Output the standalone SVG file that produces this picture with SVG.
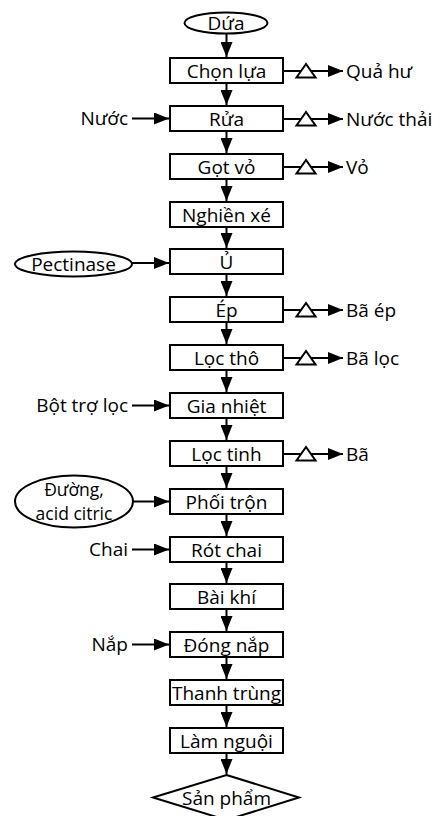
<svg xmlns="http://www.w3.org/2000/svg" width="442" height="816" viewBox="0 0 442 816">
<defs>
<marker id="ah" markerUnits="userSpaceOnUse" markerWidth="15" markerHeight="12" refX="15" refY="6" orient="auto">
<path d="M0,0 L15,6 L0,12 z" fill="#000"/>
</marker>
<style>
rect, ellipse, polygon.shape { fill: #fff; stroke: #000; stroke-width: 2; }
polygon.tri { fill: #fff; stroke: #000; stroke-width: 2; }
line { stroke: #000; stroke-width: 2; }
line.arr { marker-end: url(#ah); }
text { font-family: "Open Sans", "Liberation Sans", sans-serif; font-size: 19px; fill: #000; }
text.c { text-anchor: middle; }
text.r { text-anchor: end; }
text.s { font-size: 17.5px; }
</style>
</defs>
<rect width="442" height="816" fill="#fff" style="stroke:none"/>

<g id="connectors">
<line class="arr" x1="226.5" y1="34" x2="226.5" y2="57"/>
<line class="arr" x1="226.5" y1="84" x2="226.5" y2="105"/>
<line class="arr" x1="226.5" y1="132" x2="226.5" y2="153"/>
<line class="arr" x1="226.5" y1="180" x2="226.5" y2="201"/>
<line class="arr" x1="226.5" y1="228" x2="226.5" y2="248"/>
<line class="arr" x1="226.5" y1="275" x2="226.5" y2="296"/>
<line class="arr" x1="226.5" y1="323" x2="226.5" y2="344"/>
<line class="arr" x1="226.5" y1="371" x2="226.5" y2="392"/>
<line class="arr" x1="226.5" y1="419" x2="226.5" y2="440"/>
<line class="arr" x1="226.5" y1="467" x2="226.5" y2="488"/>
<line class="arr" x1="226.5" y1="515" x2="226.5" y2="536"/>
<line class="arr" x1="226.5" y1="563" x2="226.5" y2="583"/>
<line class="arr" x1="226.5" y1="610" x2="226.5" y2="631"/>
<line class="arr" x1="226.5" y1="658" x2="226.5" y2="679"/>
<line class="arr" x1="226.5" y1="706" x2="226.5" y2="727"/>
<line class="arr" x1="226.5" y1="754" x2="226.5" y2="774"/>

<line class="arr" x1="283" y1="71" x2="343" y2="71"/>
<line class="arr" x1="283" y1="119" x2="343" y2="119"/>
<line class="arr" x1="283" y1="167" x2="343" y2="167"/>
<line class="arr" x1="283" y1="310" x2="343" y2="310"/>
<line class="arr" x1="283" y1="358" x2="343" y2="358"/>
<line class="arr" x1="283" y1="454" x2="343" y2="454"/>
<polygon class="tri" points="306,64 296.5,77.5 315.5,77.5"/>
<polygon class="tri" points="306,112 296.5,125.5 315.5,125.5"/>
<polygon class="tri" points="306,160 296.5,173.5 315.5,173.5"/>
<polygon class="tri" points="306,303 296.5,316.5 315.5,316.5"/>
<polygon class="tri" points="306,351 296.5,364.5 315.5,364.5"/>
<polygon class="tri" points="306,447 296.5,460.5 315.5,460.5"/>

<line class="arr" x1="132" y1="118.5" x2="169" y2="118.5"/>
<line class="arr" x1="132" y1="263" x2="169" y2="263"/>
<line class="arr" x1="132" y1="405.5" x2="169" y2="405.5"/>
<line class="arr" x1="133" y1="501.5" x2="169" y2="501.5"/>
<line class="arr" x1="132" y1="549.5" x2="169" y2="549.5"/>
<line class="arr" x1="132" y1="644.5" x2="169" y2="644.5"/>
</g>

<g id="n-dua"><ellipse cx="226" cy="23" rx="41.5" ry="10.5"/><text class="c" x="226" y="30">Dứa</text></g>
<g id="n-chonlua"><rect x="170" y="58" width="113" height="25"/><text class="c" x="226.5" y="77.5">Chọn lựa</text></g>
<g id="n-rua"><rect x="170" y="106" width="113" height="25"/><text class="c" x="226.5" y="125.5">Rửa</text></g>
<g id="n-gotvo"><rect x="170" y="154" width="113" height="25"/><text class="c" x="226.5" y="173.5">Gọt vỏ</text></g>
<g id="n-nghienxe"><rect x="170" y="202" width="113" height="25"/><text class="c" x="226.5" y="221.5">Nghiền xé</text></g>
<g id="n-u"><rect x="170" y="249" width="113" height="25"/><text class="c" x="226.5" y="268.5">Ủ</text></g>
<g id="n-ep"><rect x="170" y="297" width="113" height="25"/><text class="c" x="226.5" y="316.5">Ép</text></g>
<g id="n-loctho"><rect x="170" y="345" width="113" height="25"/><text class="c" x="226.5" y="364.5">Lọc thô</text></g>
<g id="n-gianhiet"><rect x="170" y="393" width="113" height="25"/><text class="c" x="226.5" y="412.5">Gia nhiệt</text></g>
<g id="n-loctinh"><rect x="170" y="441" width="113" height="25"/><text class="c" x="226.5" y="460.5">Lọc tinh</text></g>
<g id="n-phoitron"><rect x="170" y="489" width="113" height="25"/><text class="c" x="226.5" y="508.5">Phối trộn</text></g>
<g id="n-rotchai"><rect x="170" y="537" width="113" height="25"/><text class="c" x="226.5" y="556.5">Rót chai</text></g>
<g id="n-baikhi"><rect x="170" y="584" width="113" height="25"/><text class="c" x="226.5" y="603.5">Bài khí</text></g>
<g id="n-dongnap"><rect x="170" y="632" width="113" height="25"/><text class="c" x="226.5" y="651.5">Đóng nắp</text></g>
<g id="n-thanhtrung"><rect x="170" y="680" width="113" height="25"/><text class="c" x="226.5" y="699.5">Thanh trùng</text></g>
<g id="n-lamnguoi"><rect x="170" y="728" width="113" height="25"/><text class="c" x="226.5" y="747.5">Làm nguội</text></g>
<g id="n-sanpham"><polygon class="shape" points="226.5,775 299,797.5 226.5,820 153,797.5"/><text class="c" x="226.5" y="804.5">Sản phẩm</text></g>

<g id="n-quahu"><text x="346" y="77.5">Quả hư</text></g>
<g id="n-nuocthai"><text x="346" y="125.5">Nước thải</text></g>
<g id="n-vo"><text x="346" y="173.5">Vỏ</text></g>
<g id="n-baep"><text x="346" y="316.5">Bã ép</text></g>
<g id="n-baloc"><text x="346" y="364.5">Bã lọc</text></g>
<g id="n-ba"><text x="346" y="460.5">Bã</text></g>

<g id="n-nuoc"><text class="r" x="128" y="125">Nước</text></g>
<g id="n-pectinase"><ellipse cx="73.5" cy="264" rx="58.5" ry="12.5"/><text class="c" x="73.5" y="270.5">Pectinase</text></g>
<g id="n-bottroloc"><text class="r" x="128" y="412">Bột trợ lọc</text></g>
<g id="n-duong"><ellipse cx="74" cy="501.5" rx="59" ry="26"/><text class="c s" x="74" y="496">Đường,</text><text class="c s" x="74" y="519.5">acid citric</text></g>
<g id="n-chai"><text class="r" x="128" y="556">Chai</text></g>
<g id="n-nap"><text class="r" x="128" y="651">Nắp</text></g>
</svg>
